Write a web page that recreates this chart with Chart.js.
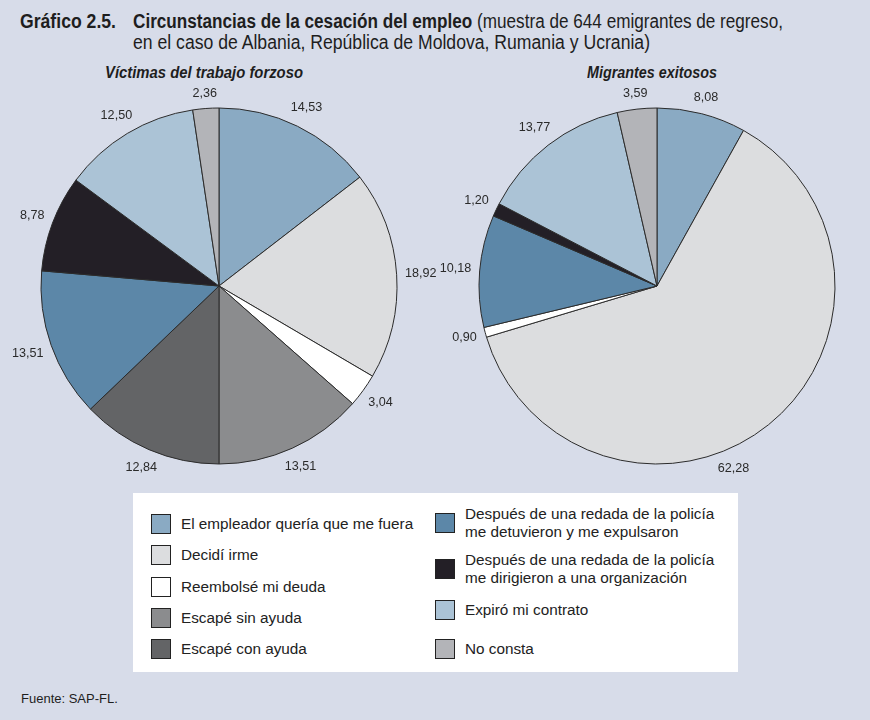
<!DOCTYPE html>
<html><head><meta charset="utf-8">
<script src="https://cdn.jsdelivr.net/npm/chart.js@4.4.1/dist/chart.umd.min.js"></script>
<style>
html,body{margin:0;padding:0;}
body{width:870px;height:720px;background:#d7dce9;position:relative;overflow:hidden;font-family:"Liberation Sans",Arial,sans-serif;color:#1e1e1e;}
.narrow{position:absolute;white-space:nowrap;font-family:"Liberation Sans",Arial,sans-serif;transform-origin:0 0;}
.tt{font-size:19.5px;}
.sub{font-size:16px;font-weight:bold;font-style:italic;}
canvas{position:absolute;}
#legend{position:absolute;left:133px;top:493px;width:605px;height:179px;background:#fff;}
.item{position:absolute;display:flex;align-items:center;font-size:15.3px;line-height:18px;white-space:pre-line;color:#222;}
.sw{width:18px;height:18px;border:1px solid #222;margin-right:10px;flex:none;}
#src{position:absolute;left:21px;top:691px;font-size:13px;}
</style></head>
<body>
<div class="narrow tt" data-w="96" style="left:20px;top:10px;"><b>Gráfico 2.5.</b></div>
<div class="narrow tt" data-w="650" style="left:133px;top:10px;"><b>Circunstancias de la cesación del empleo</b> (muestra de 644 emigrantes de regreso,</div>
<div class="narrow tt" data-w="517" style="left:133px;top:31px;">en el caso de Albania, República de Moldova, Rumania y Ucrania)</div>
<div class="narrow sub" data-w="198" style="left:105px;top:64px;">Víctimas del trabajo forzoso</div>
<div class="narrow sub" data-w="130" style="left:587px;top:64px;">Migrantes exitosos</div>
<canvas id="c1" width="440" height="420" style="left:-1px;top:76px;"></canvas>
<canvas id="c2" width="440" height="420" style="left:437px;top:76px;"></canvas>
<div id="legend"></div>
<div id="src">Fuente: SAP-FL.</div>
<script>
const categories = [
  "El empleador quería que me fuera",
  "Decidí irme",
  "Reembolsé mi deuda",
  "Escapé sin ayuda",
  "Escapé con ayuda",
  "Después de una redada de la policía\nme detuvieron y me expulsaron",
  "Después de una redada de la policía\nme dirigieron a una organización",
  "Expiró mi contrato",
  "No consta"
];
const victimasValues = [14.53, 18.92, 3.04, 13.51, 12.84, 13.51, 8.78, 12.50, 2.36];
const exitososValues = [8.08, 62.28, 0.90, 0, 0, 10.18, 1.20, 13.77, 3.59];
const sliceColors = ["#8aaac3","#dcdddf","#ffffff","#8b8c8e","#636466","#5c87a8","#231f26","#abc3d6","#b3b4b8"];

// condensed-type look: squeeze each heading to the width it has in the reference
document.querySelectorAll('.narrow').forEach(el => {
  const w = el.getBoundingClientRect().width;
  el.style.transform = 'scaleX(' + (parseFloat(el.dataset.w) / w) + ')';
});

function fmt(v){ return v.toFixed(2).replace('.', ','); }

const outLabels = {
  id:'outLabels',
  afterDatasetsDraw(chart, args, opts){
    const ctx = chart.ctx;
    const meta = chart.getDatasetMeta(0);
    const data = chart.data.datasets[0].data;
    const nudge = opts.nudge || {};
    ctx.save();
    ctx.font = '12.6px "Liberation Sans", Arial, sans-serif';
    ctx.fillStyle = '#2a2a2a';
    ctx.textAlign = 'center';
    ctx.textBaseline = 'middle';
    meta.data.forEach((arc, i) => {
      const v = data[i];
      if (!v) return;
      const p = arc.getProps(['x','y','startAngle','endAngle','outerRadius'], true);
      const a = (p.startAngle + p.endAngle) / 2 + (nudge[i] || 0) * Math.PI / 180;
      const txt = fmt(v);
      const hw = ctx.measureText(txt).width / 2, hh = 6;
      const ux = Math.cos(a), uy = Math.sin(a);
      const d = p.outerRadius + 8 + Math.abs(ux) * hw + Math.abs(uy) * hh;
      ctx.fillText(txt, p.x + ux * d, p.y + uy * d);
    });
    ctx.restore();
  }
};

function makePie(id, values, nudge){
  return new Chart(document.getElementById(id), {
    type: 'pie',
    data: { labels: categories, datasets: [{
      data: values,
      backgroundColor: sliceColors,
      borderColor: '#2b2b2b',
      borderWidth: 1
    }]},
    options: {
      responsive: false,
      animation: false,
      events: [],
      radius: 178,
      layout: { padding: 0 },
      plugins: {
        legend: { display: false },
        tooltip: { enabled: false },
        title: { display: false },
        outLabels: { nudge: nudge }
      }
    },
    plugins: [outLabels]
  });
}
makePie('c1', victimasValues, {});
makePie('c2', exitososValues, {1: 16});

// HTML legend built from the category and colour arrays
const legend = document.getElementById('legend');
const leftCol = [0,1,2,3,4], rightCol = [5,6,7,8];
const leftCenters = [31, 62, 93.5, 125, 156];
const rightCenters = [30, 76, 117, 156];
function addItem(idx, x, cy){
  const it = document.createElement('div');
  it.className = 'item';
  const sw = document.createElement('div');
  sw.className = 'sw';
  sw.style.background = sliceColors[idx];
  const tx = document.createElement('div');
  tx.textContent = categories[idx];
  it.appendChild(sw); it.appendChild(tx);
  it.style.left = x + 'px';
  legend.appendChild(it);
  it.style.top = (cy - it.offsetHeight / 2) + 'px';
}
leftCol.forEach((c, k) => addItem(c, 18, leftCenters[k]));
rightCol.forEach((c, k) => addItem(c, 302, rightCenters[k]));
</script>
</body></html>
